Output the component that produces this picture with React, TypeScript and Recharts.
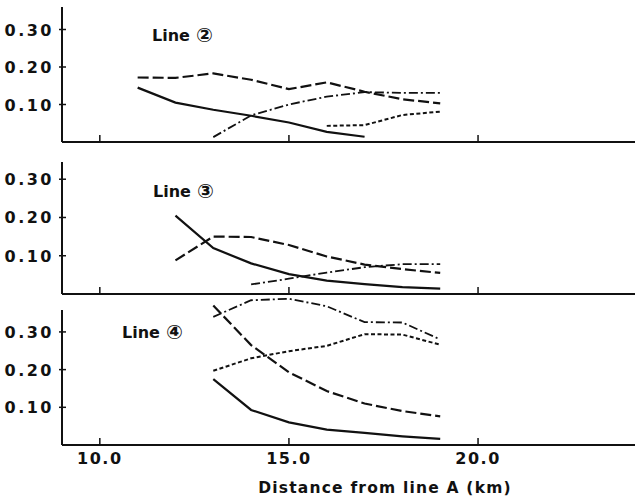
import { LineChart, Line, XAxis, YAxis, ReferenceLine } from "recharts";

const DISTANCE = [11, 12, 13, 14, 15, 16, 17, 18, 19];
const X_TICKS = [10, 15, 20];
const Y_TICKS = [0.1, 0.2, 0.3];

// Line 2
const L2_SOLID = [0.145, 0.105, 0.086, 0.07, 0.052, 0.027, 0.014, null, null];
const L2_DASH = [0.172, 0.171, 0.183, 0.166, 0.141, 0.159, 0.134, 0.114, 0.103];
const L2_DASHDOT = [null, null, 0.013, 0.071, 0.1, 0.121, 0.133, 0.131, 0.131];
const L2_DOT = [null, null, null, null, null, 0.043, 0.045, 0.072, 0.081];

// Line 3
const L3_SOLID = [null, 0.205, 0.12, 0.08, 0.052, 0.035, 0.026, 0.018, 0.014];
const L3_DASH = [null, 0.088, 0.15, 0.149, 0.128, 0.098, 0.077, 0.065, 0.055];
const L3_DASHDOT = [null, null, null, 0.025, 0.04, 0.056, 0.07, 0.078, 0.078];
const L3_DOT = [null, null, null, null, null, null, null, null, null];

// Line 4
const L4_SOLID = [null, null, 0.175, 0.093, 0.06, 0.041, 0.032, 0.023, 0.016];
const L4_DASH = [null, null, 0.37, 0.265, 0.193, 0.143, 0.11, 0.09, 0.076];
const L4_DASHDOT = [null, null, 0.34, 0.384, 0.388, 0.368, 0.326, 0.325, 0.28];
const L4_DOT = [null, null, 0.197, 0.23, 0.249, 0.263, 0.294, 0.293, 0.266];

const rows = (solid: any[], dash: any[], dashdot: any[], dot: any[]) =>
  DISTANCE.map((d, i) => ({
    d,
    solid: solid[i],
    dash: dash[i],
    dashdot: dashdot[i],
    dot: dot[i],
  }));

const FONT = "'DejaVu Sans', 'Noto Sans CJK JP', sans-serif";
const INK = "#111";

const YTick = (props: any) => {
  const { x, y, payload } = props;
  return (
    <g>
      <line x1={x - 3} x2={x + 4} y1={y} y2={y} stroke={INK} strokeWidth={1.5} />
      <text
        x={x - 8}
        y={y + 6}
        textAnchor="end"
        fontFamily={FONT}
        fontWeight="bold"
        fontSize={16}
        letterSpacing={2.5}
        fill={INK}
      >
        {payload.value.toFixed(2)}
      </text>
    </g>
  );
};

const makeXTick = (showLabel: boolean) => (props: any) => {
  const { x, y, payload } = props;
  return (
    <g>
      <line x1={x} x2={x} y1={y} y2={y - 7} stroke={INK} strokeWidth={1.5} />
      {showLabel && (
        <text
          x={x}
          y={y + 19}
          textAnchor="middle"
          fontFamily={FONT}
          fontWeight="bold"
          fontSize={16}
          letterSpacing={1.5}
          fill={INK}
        >
          {payload.value.toFixed(1)}
        </text>
      )}
    </g>
  );
};

interface PanelProps {
  data: any[];
  top: number;
  height: number;
  marginTop: number;
  yMax: number;
  xAxisHeight: number;
  showLabels: boolean;
  axisTop?: number;
}

const Panel = ({ data, top, height, marginTop, yMax, xAxisHeight, showLabels, axisTop }: PanelProps) => (
  <div style={{ position: "absolute", left: 0, top }}>
    <LineChart
      width={635}
      height={height}
      data={data}
      margin={{ top: marginTop, right: 0, bottom: 0, left: 0 }}
    >
      <XAxis
        dataKey="d"
        type="number"
        domain={[9, 24.15]}
        ticks={X_TICKS}
        height={xAxisHeight}
        tickLine={false}
        tickSize={0}
        tickMargin={0}
        tick={makeXTick(showLabels)}
        axisLine={{ stroke: INK, strokeWidth: 2 }}
        interval={0}
      />
      <YAxis
        type="number"
        domain={[0, yMax]}
        ticks={Y_TICKS}
        width={62}
        tickLine={false}
        tickSize={0}
        tickMargin={0}
        tick={YTick}
        axisLine={axisTop === undefined ? { stroke: INK, strokeWidth: 2 } : false}
        interval={0}
      />
      {axisTop !== undefined && (
        <ReferenceLine
          segment={[
            { x: 9, y: 0 },
            { x: 9, y: axisTop },
          ]}
          stroke={INK}
          strokeWidth={2}
        />
      )}
      <Line dataKey="solid" stroke={INK} strokeWidth={2.2} dot={false} activeDot={false} isAnimationActive={false} />
      <Line dataKey="dash" stroke={INK} strokeWidth={2.2} strokeDasharray="11 4" dot={false} activeDot={false} isAnimationActive={false} />
      <Line dataKey="dashdot" stroke={INK} strokeWidth={1.8} strokeDasharray="9 3 2 3" dot={false} activeDot={false} isAnimationActive={false} />
      <Line dataKey="dot" stroke={INK} strokeWidth={2} strokeDasharray="4 2.5" dot={false} activeDot={false} isAnimationActive={false} />
    </LineChart>
  </div>
);

const PanelLabel = ({ x, y, num }: { x: number; y: number; num: string }) => (
  <text x={x} y={y} fontSize={16}>
    Line
    <tspan dx={6} fontSize={20} dy={1}>
      {num}
    </tspan>
  </text>
);

export default function App() {
  return (
    <div
      style={{
        position: "absolute",
        left: 0,
        top: 0,
        width: 635,
        height: 503,
        background: "#fff",
        overflow: "hidden",
      }}
    >
      <Panel data={rows(L2_SOLID, L2_DASH, L2_DASHDOT, L2_DOT)} top={0} height={150} marginTop={7} yMax={0.36} xAxisHeight={8} showLabels={false} />
      <Panel data={rows(L3_SOLID, L3_DASH, L3_DASHDOT, L3_DOT)} top={150} height={152} marginTop={12} yMax={0.345} xAxisHeight={8} showLabels={false} />
      <Panel data={rows(L4_SOLID, L4_DASH, L4_DASHDOT, L4_DOT)} top={290} height={213} marginTop={8} yMax={0.39} xAxisHeight={58} showLabels axisTop={0.358} />
      <svg width={635} height={503} style={{ position: "absolute", left: 0, top: 0, pointerEvents: "none" }}>
        <g fontFamily={FONT} fontWeight="bold" fill={INK}>
          <PanelLabel x={152} y={41} num="②" />
          <PanelLabel x={153} y={197} num="③" />
          <PanelLabel x={122} y={338} num="④" />
          <text x={385} y={493} fontSize={15.5} letterSpacing={1.2} textAnchor="middle">
            Distance from line A (km)
          </text>
        </g>
      </svg>
    </div>
  );
}
